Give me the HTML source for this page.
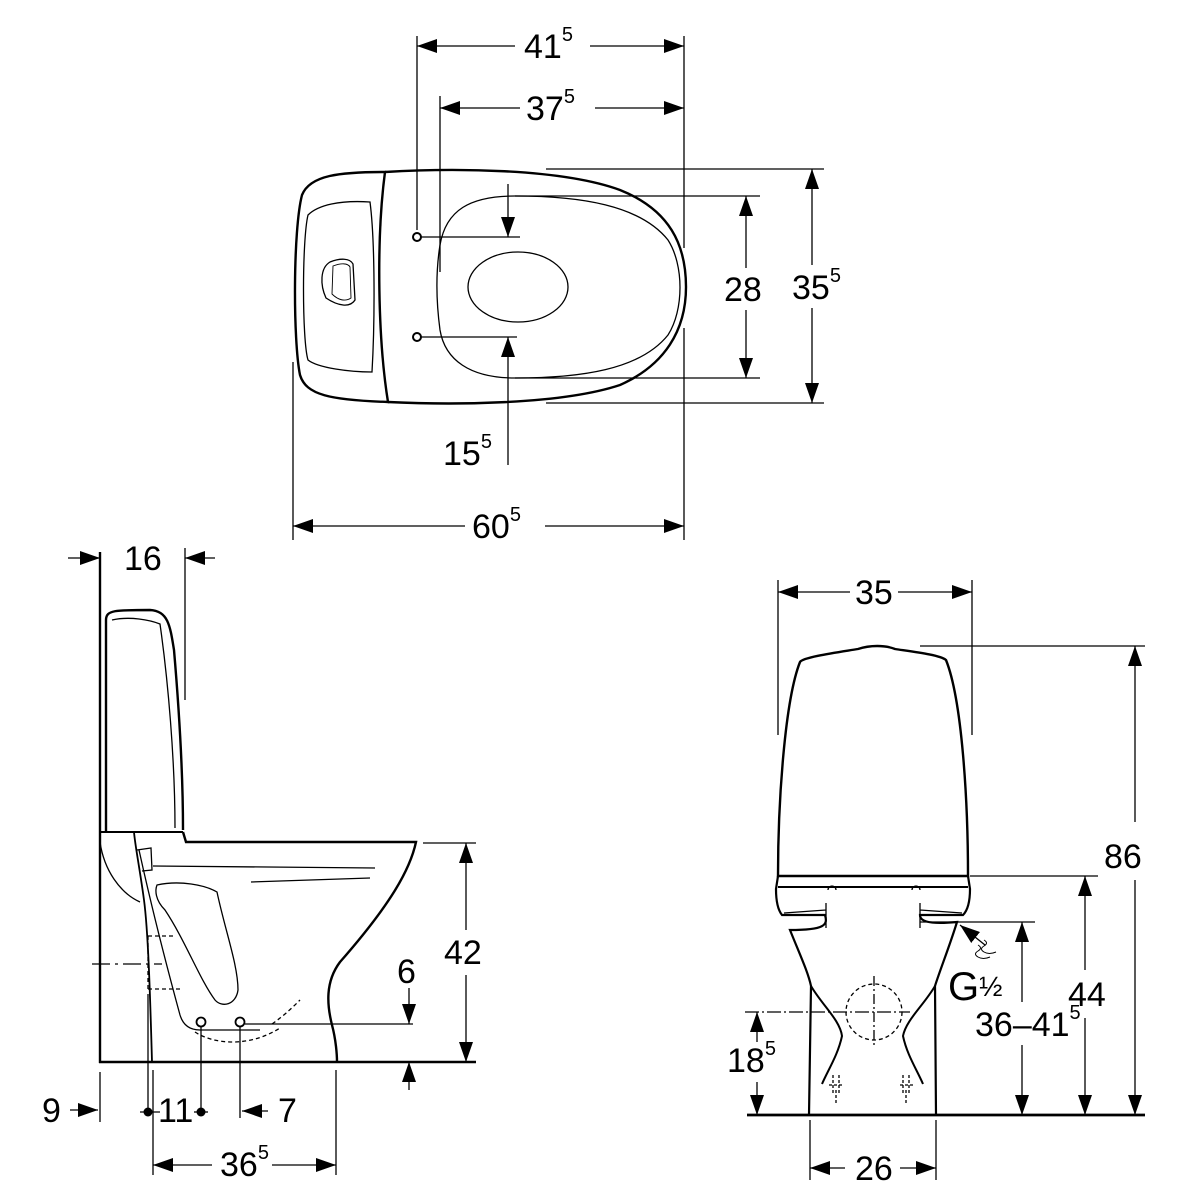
<!DOCTYPE html>
<html><head><style>
html,body{margin:0;padding:0;background:#fff;}
svg{display:block;}
text{font-family:"Liberation Sans",sans-serif;fill:#000;}
.t{font-size:34px;}
.u{font-size:20px;}
</style></head><body>
<svg width="1200" height="1200" viewBox="0 0 1200 1200" xmlns="http://www.w3.org/2000/svg">
<defs>
<marker id="a" markerUnits="userSpaceOnUse" markerWidth="20" markerHeight="14" refX="20" refY="7" orient="auto-start-reverse"><path d="M0,0 L20,7 L0,14 Z" fill="#000"/></marker>
</defs>
<g fill="none" stroke="#000" stroke-width="1.3">
<!-- ===== TOP VIEW ===== -->
<line x1="417" y1="36" x2="417" y2="230"/>
<line x1="684" y1="36" x2="684" y2="248"/>
<line x1="684" y1="328" x2="684" y2="540"/>
<line x1="440" y1="96" x2="440" y2="272"/>
<line x1="417" y1="46" x2="515" y2="46" marker-start="url(#a)"/>
<line x1="590" y1="46" x2="684" y2="46" marker-end="url(#a)"/>
<line x1="440" y1="108" x2="520" y2="108" marker-start="url(#a)"/>
<line x1="595" y1="108" x2="684" y2="108" marker-end="url(#a)"/>
<path d="M385,172 C340,172 310,175 302,195 C293,230 293,340 300,375 C306,395 330,400 388,402 C378,340 376,240 385,172 Z" stroke-width="2.4"/>
<path d="M370,202 C340,200 318,205 308,215 C302,240 302,340 308,360 C318,368 350,372 372,372 C375,320 375,240 370,202 Z"/>
<path d="M330,262 C340,258 350,258 353,264 L355,300 C350,308 338,306 326,298 C320,285 320,268 330,262 Z"/>
<path d="M333,266 C341,263 348,263 350,267 L351,298 C345,302 338,300 332,294 Z" stroke-width="0.9"/>
<path d="M385,172 C450,168 560,168 620,190 C670,210 686,245 686,287 C686,330 665,365 620,385 C560,405 450,405 388,402" stroke-width="2.4"/>
<path d="M515,196 C580,196 640,205 668,240 C684,265 684,310 668,335 C640,370 580,378 515,378 C470,378 445,360 440,330 C436,300 436,270 440,245 C446,210 470,196 515,196 Z"/>
<ellipse cx="518" cy="287" rx="50" ry="35"/>
<circle cx="417" cy="237" r="4" stroke-width="2"/>
<circle cx="417" cy="337" r="4" stroke-width="2"/>
<line x1="421" y1="237" x2="520" y2="237"/>
<line x1="421" y1="337" x2="517" y2="337"/>
<line x1="508" y1="184" x2="508" y2="237" marker-end="url(#a)"/>
<line x1="508" y1="465" x2="508" y2="337" marker-end="url(#a)"/>
<line x1="515" y1="196" x2="760" y2="196"/>
<line x1="515" y1="378" x2="760" y2="378"/>
<line x1="746" y1="196" x2="746" y2="268" marker-start="url(#a)"/>
<line x1="746" y1="310" x2="746" y2="378" marker-end="url(#a)"/>
<line x1="546" y1="169" x2="824" y2="169"/>
<line x1="546" y1="403" x2="824" y2="403"/>
<line x1="812" y1="169" x2="812" y2="265" marker-start="url(#a)"/>
<line x1="812" y1="308" x2="812" y2="403" marker-end="url(#a)"/>
<line x1="293" y1="362" x2="293" y2="540"/>
<line x1="293" y1="526" x2="465" y2="526" marker-start="url(#a)"/>
<line x1="545" y1="526" x2="684" y2="526" marker-end="url(#a)"/>

<!-- ===== SIDE VIEW ===== -->
<line x1="100" y1="552" x2="100" y2="1063" stroke-width="2.4"/>
<line x1="99" y1="1062" x2="476" y2="1062" stroke-width="2.4"/>
<line x1="68" y1="558" x2="100" y2="558" marker-end="url(#a)"/>
<line x1="215" y1="558" x2="185" y2="558" marker-end="url(#a)"/>
<line x1="185" y1="548" x2="185" y2="700"/>
<path d="M106,832 L106,620 C106,610 115,610 150,610 C168,611 170,625 174,650 C180,720 183,780 183,830" stroke-width="2.4"/>
<path d="M112,620 C130,616 150,620 160,624 C168,680 175,760 175,828"/>
<line x1="100" y1="832" x2="183" y2="832" stroke-width="2"/>
<path d="M183,832 L186,842 L416,842 C410,870 390,905 340,962 C325,982 327,1005 332,1025 C336,1040 337,1055 337,1062" stroke-width="2.4"/>
<path d="M100,842 C104,870 120,893 140,902"/>
<path d="M134,832 C135,845 140,870 144,900 C148,930 150,990 152,1062" stroke-width="1.8"/>
<path d="M139,850 C150,900 165,960 180,1015 C183,1025 190,1030 200,1030 L260,1030"/>
<path d="M137,850 L151,848 L152,870 L142,871"/>
<line x1="153" y1="866" x2="375" y2="868"/>
<line x1="251" y1="882" x2="370" y2="878"/>
<path d="M157,885 C180,880 205,885 217,892 C225,930 238,965 238,990 C236,1005 222,1008 215,1000 C200,980 185,940 165,910 C155,900 155,890 157,885 Z"/>
<path d="M195,1032 C215,1045 250,1047 280,1028 M272,1024 C285,1015 295,1005 300,1000" stroke-dasharray="4,3"/>
<line x1="148" y1="936" x2="175" y2="936" stroke-dasharray="4,3"/>
<line x1="148" y1="989" x2="180" y2="989" stroke-dasharray="4,3"/>
<line x1="148" y1="936" x2="148" y2="989" stroke-dasharray="4,3"/>
<line x1="92" y1="964" x2="162" y2="964" stroke-dasharray="18,5,3,5"/>
<line x1="148" y1="994" x2="148" y2="1112"/>
<circle cx="201" cy="1022" r="4.5" stroke-width="1.8"/>
<circle cx="240" cy="1022" r="4.5" stroke-width="1.8"/>
<line x1="245" y1="1024" x2="413" y2="1024"/>
<line x1="201" y1="1027" x2="201" y2="1112"/>
<line x1="240" y1="1027" x2="240" y2="1118"/>
<line x1="409" y1="988" x2="409" y2="1024" marker-end="url(#a)"/>
<line x1="409" y1="1090" x2="409" y2="1062" marker-end="url(#a)"/>
<line x1="423" y1="843" x2="476" y2="843"/>
<line x1="466" y1="843" x2="466" y2="930" marker-start="url(#a)"/>
<line x1="466" y1="975" x2="466" y2="1062" marker-end="url(#a)"/>
<line x1="100" y1="1072" x2="100" y2="1122"/>
<line x1="70" y1="1110" x2="98" y2="1110" marker-end="url(#a)"/>
<line x1="140" y1="1112" x2="160" y2="1112"/>
<line x1="194" y1="1112" x2="208" y2="1112"/>
<line x1="268" y1="1111" x2="242" y2="1111" marker-end="url(#a)"/>
<line x1="153" y1="1070" x2="153" y2="1175"/>
<line x1="336" y1="1070" x2="336" y2="1175"/>
<line x1="153" y1="1165" x2="212" y2="1165" marker-start="url(#a)"/>
<line x1="272" y1="1165" x2="336" y2="1165" marker-end="url(#a)"/>

<!-- ===== FRONT VIEW ===== -->
<line x1="778" y1="580" x2="778" y2="735"/>
<line x1="972" y1="580" x2="972" y2="735"/>
<line x1="778" y1="592" x2="850" y2="592" marker-start="url(#a)"/>
<line x1="898" y1="592" x2="972" y2="592" marker-end="url(#a)"/>
<path d="M778,876 C778,800 785,700 800,662 C803,657 840,652 858,649 C870,645 885,645 895,649 C915,652 940,655 946,660 C962,700 968,800 968,876 Z" stroke-width="2.4"/>
<line x1="778" y1="887" x2="968" y2="887" stroke-width="2"/>
<path d="M778,876 L776,889 C776,900 778,910 782,915 L825,915 C828,925 825,930 790,930 C800,955 808,972 811,986 L809,1115" stroke-width="2.2"/>
<path d="M968,876 L970,889 C970,900 968,910 963,915 L920,915 C920,920 925,925 957,922 C950,945 940,970 935,986 L936,1115" stroke-width="2.2"/>
<path d="M784,913 L826,910 M826,903 L826,928"/>
<path d="M962,913 L920,910 M920,903 L920,928"/>
<path d="M811,986 C822,1005 840,1020 842,1036 C838,1055 828,1070 822,1084" stroke-width="2"/>
<path d="M935,986 C924,1005 906,1020 903,1036 C907,1055 917,1070 923,1084" stroke-width="2"/>
<path d="M828,890 a3,3 0 0 1 8,0 M912,890 a3,3 0 0 1 8,0"/>
<circle cx="874" cy="1012" r="28" stroke-dasharray="4,3"/>
<line x1="874" y1="976" x2="874" y2="1048" stroke-dasharray="10,3,2,3"/>
<line x1="745" y1="1012" x2="910" y2="1012" stroke-dasharray="14,3,2,3"/>
<path d="M833,1075 L833,1095 M839,1075 L839,1095 M829,1085 L843,1085 M836,1090 L836,1105 M903,1075 L903,1095 M909,1075 L909,1095 M900,1085 L913,1085 M906,1090 L906,1105" stroke-dasharray="3,2"/>
<line x1="747" y1="1115" x2="1145" y2="1115" stroke-width="2.8"/>
<line x1="757" y1="1012" x2="757" y2="1042" marker-start="url(#a)"/>
<line x1="757" y1="1082" x2="757" y2="1115" marker-end="url(#a)"/>
<line x1="920" y1="922" x2="1035" y2="922"/>
<line x1="1022" y1="922" x2="1022" y2="1002" marker-start="url(#a)"/>
<line x1="1022" y1="1045" x2="1022" y2="1115" marker-end="url(#a)"/>
<line x1="970" y1="876" x2="1098" y2="876"/>
<line x1="1085" y1="876" x2="1085" y2="970" marker-start="url(#a)"/>
<line x1="1085" y1="1018" x2="1085" y2="1115" marker-end="url(#a)"/>
<line x1="920" y1="646" x2="1145" y2="646"/>
<line x1="1135" y1="646" x2="1135" y2="822" marker-start="url(#a)"/>
<line x1="1135" y1="880" x2="1135" y2="1115" marker-end="url(#a)"/>
<line x1="985" y1="945" x2="960" y2="925" marker-end="url(#a)"/>
<path d="M978,945 q5,3 0,6 q-5,3 0,6 q5,3 12,0 M984,940 q5,3 0,6 q-5,3 0,6 q5,3 12,0" stroke-width="1"/>
<line x1="810" y1="1120" x2="810" y2="1180"/>
<line x1="936" y1="1120" x2="936" y2="1180"/>
<line x1="810" y1="1168" x2="845" y2="1168" marker-start="url(#a)"/>
<line x1="900" y1="1168" x2="936" y2="1168" marker-end="url(#a)"/>
</g>
<circle cx="148" cy="1112" r="4.5" fill="#000"/>
<circle cx="201" cy="1112" r="4.5" fill="#000"/>

<!-- TEXT -->
<text class="t" x="524" y="58">41<tspan class="u" dy="-17">5</tspan></text>
<text class="t" x="526" y="120">37<tspan class="u" dy="-17">5</tspan></text>
<text class="t" x="724" y="301">28</text>
<text class="t" x="792" y="299">35<tspan class="u" dy="-17">5</tspan></text>
<text class="t" x="443" y="465">15<tspan class="u" dy="-17">5</tspan></text>
<text class="t" x="472" y="538">60<tspan class="u" dy="-17">5</tspan></text>

<text class="t" x="124" y="570">16</text>
<text class="t" x="397" y="983">6</text>
<text class="t" x="444" y="964">42</text>
<text class="t" x="42" y="1122">9</text>
<text class="t" x="158" y="1122">11</text>
<text class="t" x="278" y="1122">7</text>
<text class="t" x="220" y="1176">36<tspan class="u" dy="-17">5</tspan></text>

<text class="t" x="855" y="604">35</text>
<text class="t" x="1104" y="868">86</text>
<text class="t" x="1068" y="1006">44</text>
<text x="948" y="1000" style="font-size:40px">G<tspan style="font-size:28px" dy="-4">½</tspan></text>
<text class="t" x="975" y="1036">36–41<tspan class="u" dy="-17">5</tspan></text>
<text class="t" x="727" y="1072">18<tspan class="u" dy="-17">5</tspan></text>
<text class="t" x="855" y="1180">26</text>
</svg>
</body></html>
